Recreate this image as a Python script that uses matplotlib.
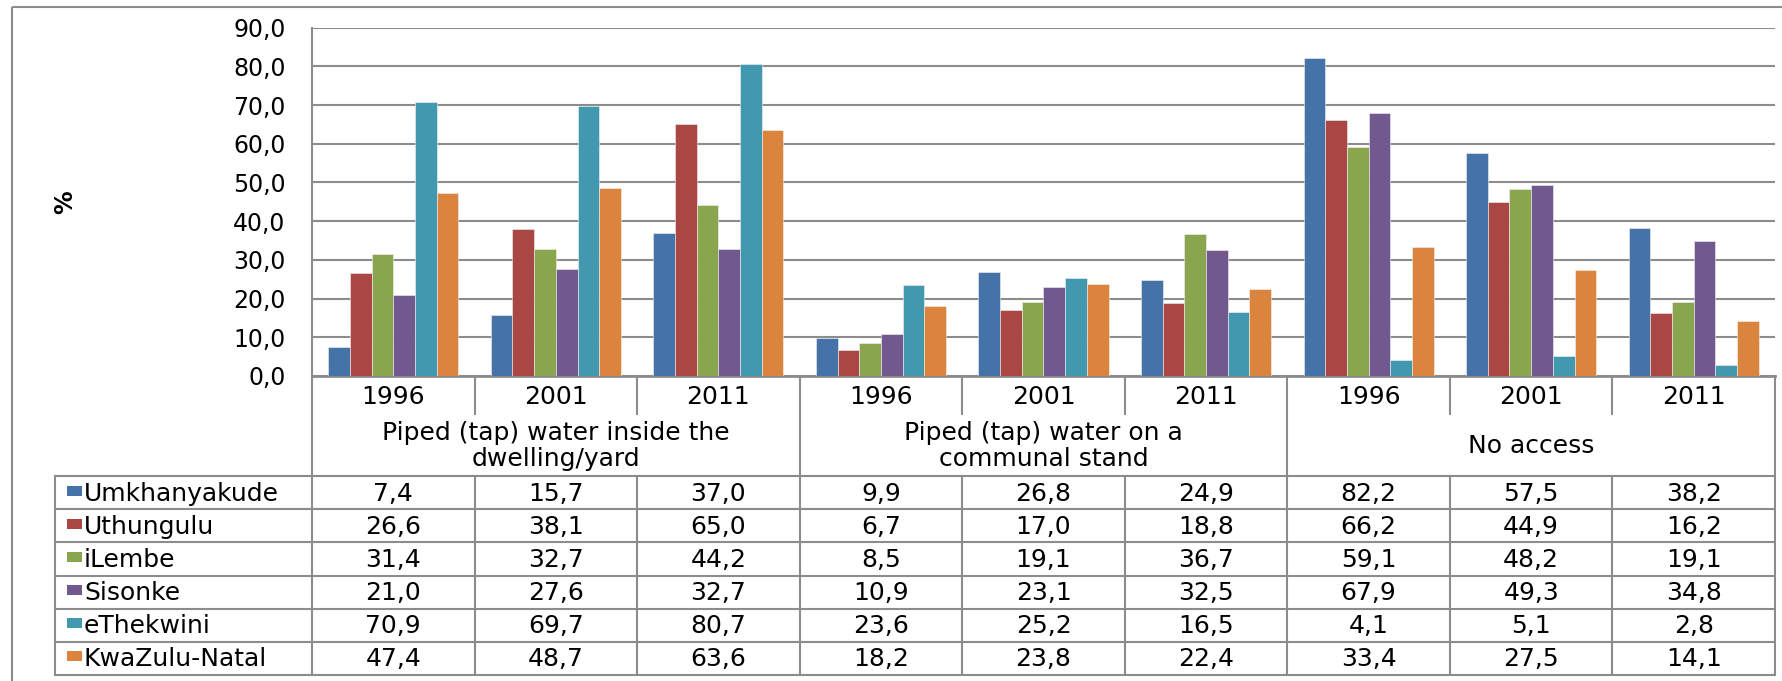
import numpy as np
import matplotlib.pyplot as plt
from matplotlib.patches import Rectangle

plt.rcParams['font.family'] = ['DejaVu Sans']

years = ['1996', '2001', '2011'] * 3
categories = ['Piped (tap) water inside the\ndwelling/yard',
              'Piped (tap) water on a\ncommunal stand',
              'No access']
series = ['Umkhanyakude', 'Uthungulu', 'iLembe', 'Sisonke', 'eThekwini', 'KwaZulu-Natal']
umkhanyakude = [7.4, 15.7, 37.0, 9.9, 26.8, 24.9, 82.2, 57.5, 38.2]
uthungulu = [26.6, 38.1, 65.0, 6.7, 17.0, 18.8, 66.2, 44.9, 16.2]
ilembe = [31.4, 32.7, 44.2, 8.5, 19.1, 36.7, 59.1, 48.2, 19.1]
sisonke = [21.0, 27.6, 32.7, 10.9, 23.1, 32.5, 67.9, 49.3, 34.8]
ethekwini = [70.9, 69.7, 80.7, 23.6, 25.2, 16.5, 4.1, 5.1, 2.8]
kzn = [47.4, 48.7, 63.6, 18.2, 23.8, 22.4, 33.4, 27.5, 14.1]
values = [umkhanyakude, uthungulu, ilembe, sisonke, ethekwini, kzn]
colors = ['#4572A7', '#AA4643', '#89A54E', '#71588F', '#4198AF', '#DB843D']

W, H = 1782, 681
grey = '#8c8c8c'
fs = 18

fig = plt.figure(figsize=(W / 100, H / 100), dpi=100)

# pixel layout of the plot area
px_left, px_right = 312, 1775
px_top, px_zero = 27.7, 376
ax = fig.add_axes([px_left / W, 1 - px_zero / H, (px_right - px_left) / W, (px_zero - px_top) / H])

# overlay in pixel coordinates for the data table and frame
ax_t = fig.add_axes([0, 0, 1, 1], zorder=-1)
ax_t.set_xlim(0, W)
ax_t.set_ylim(H, 0)
ax_t.axis('off')

n = len(years)
x = np.arange(n)
bw = 1 / 7.5
for i, (vals, c) in enumerate(zip(values, colors)):
    ax.bar(x + (i - 2.5) * bw, vals, width=bw, color=c, edgecolor='#f2f2f2', linewidth=0.4, zorder=3)

ax.set_xlim(-0.5, n - 0.5)
ax.set_ylim(0, 90)
ax.set_yticks(np.arange(0, 91, 10))
ax.set_yticklabels([f'{v:.1f}'.replace('.', ',') for v in np.arange(0, 91, 10)], fontsize=17)
ax.set_xticks([])
ax.tick_params(axis='y', length=0, pad=19)
ax.grid(axis='y', color=grey, linewidth=1.5, zorder=0)
for s in ['top', 'right']:
    ax.spines[s].set_visible(False)
ax.spines['left'].set_color(grey)
ax.spines['left'].set_linewidth(1.5)
ax.spines['bottom'].set_color(grey)
ax.spines['bottom'].set_linewidth(2)

ax_t.text(65, (px_top + px_zero) / 2, '%', rotation=90, ha='center', va='center',
          fontsize=17, fontweight='bold')

# outer chart frame (runs off the right and bottom edges)
ax_t.add_patch(Rectangle((12, 7), W, H, fill=False, edgecolor=grey, linewidth=1.5))

# data table
slot = (px_right - px_left) / n
xs = [px_left + k * slot for k in range(n + 1)]
y_year, y_cat, y_tab, y_bot = px_zero, 414, 476, 675
tab_left = 55
row_h = (y_bot - y_tab) / len(series)
lw = 1.5

for k in range(n + 1):
    if k % 3 == 0:
        ax_t.plot([xs[k], xs[k]], [y_year, y_bot], color=grey, lw=lw)
    else:
        ax_t.plot([xs[k], xs[k]], [y_year, y_cat], color=grey, lw=lw)
        ax_t.plot([xs[k], xs[k]], [y_tab, y_bot], color=grey, lw=lw)
ax_t.plot([tab_left, tab_left], [y_tab, y_bot], color=grey, lw=lw)
for r in range(len(series) + 1):
    yy = y_tab + r * row_h
    ax_t.plot([tab_left, px_right], [yy, yy], color=grey, lw=lw)

for k in range(n):
    ax_t.text((xs[k] + xs[k + 1]) / 2, (y_year + y_cat) / 2 + 2, years[k],
              ha='center', va='center', fontsize=fs)
for g, cat in enumerate(categories):
    ax_t.text((xs[3 * g] + xs[3 * g + 3]) / 2, (y_cat + y_tab) / 2 + 1, cat,
              ha='center', va='center', fontsize=fs, linespacing=1.15)

for r, (name, vals, c) in enumerate(zip(series, values, colors)):
    yc = y_tab + (r + 0.5) * row_h
    ax_t.add_patch(Rectangle((67, yc - 7), 15, 10, facecolor=c, edgecolor='none'))
    ax_t.text(84, yc + 1, name, ha='left', va='center', fontsize=fs)
    for k in range(n):
        ax_t.text((xs[k] + xs[k + 1]) / 2, yc + 1, f'{vals[k]:.1f}'.replace('.', ','),
                  ha='center', va='center', fontsize=fs)

fig.savefig('out.png', dpi=100, facecolor='white')
